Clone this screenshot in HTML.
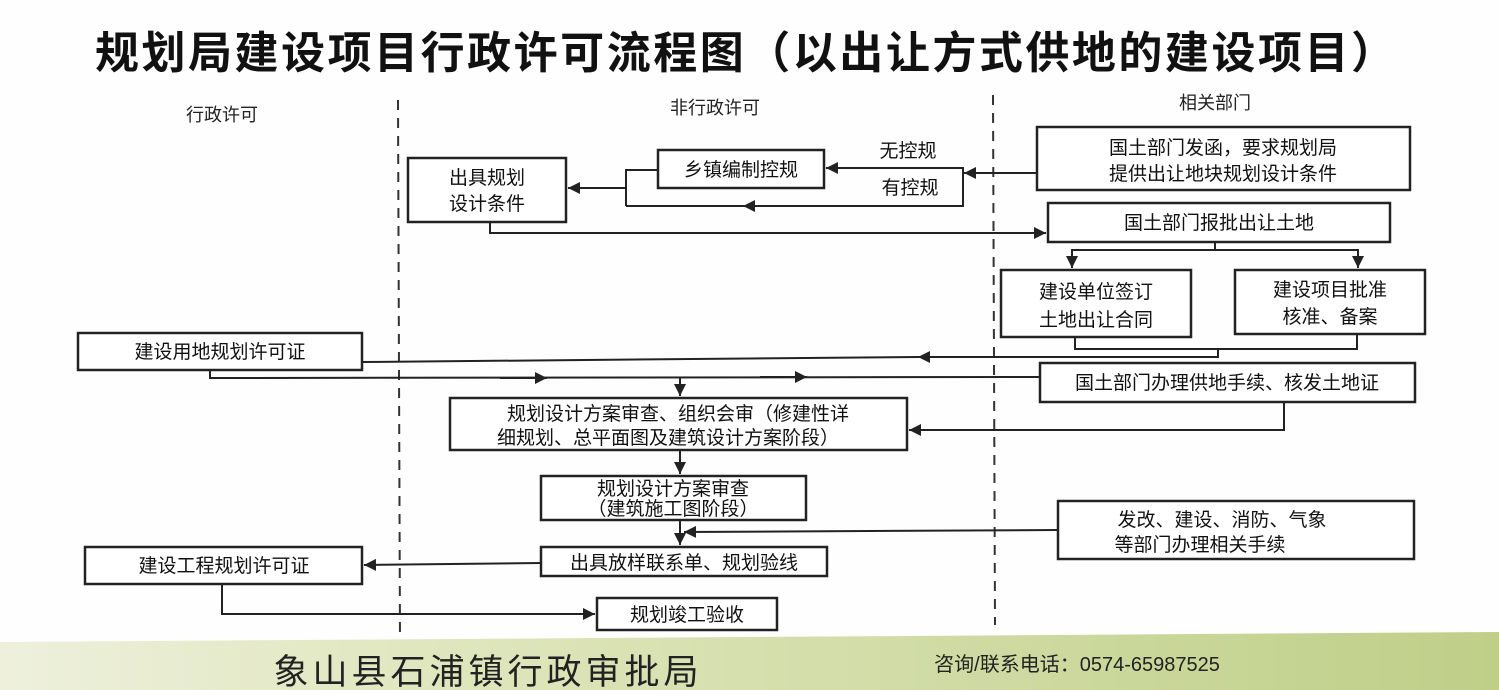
<!DOCTYPE html>
<html><head><meta charset="utf-8"><style>
html,body{margin:0;padding:0;background:#fff;}
svg{display:block;font-family:"Liberation Sans","Noto Sans CJK SC","WenQuanYi Zen Hei",sans-serif;}
</style></head><body>
<svg width="1499" height="690" viewBox="0 0 1499 690" xmlns="http://www.w3.org/2000/svg">
<defs>
<linearGradient id="g" x1="0" x2="1" y1="0" y2="0">
<stop offset="0" stop-color="#eef0dc"/><stop offset="0.3" stop-color="#dfe6bd"/><stop offset="1" stop-color="#bfcf88"/>
</linearGradient>
<marker id="a" viewBox="0 0 10 10" refX="10" refY="5" markerWidth="6" markerHeight="6" orient="auto-start-reverse"><path d="M0,0L10,5L0,10z" fill="#222"/></marker>
</defs>
<rect width="1499" height="690" fill="#fefefe"/>
<path d="M0,642 L1499,632 L1499,690 L0,690z" fill="url(#g)"/>
<text x="95" y="68" font-size="44" font-weight="bold" fill="#111" textLength="1300" lengthAdjust="spacing">规划局建设项目行政许可流程图（以出让方式供地的建设项目）</text>
<g stroke="#333" stroke-width="2" stroke-dasharray="10,8">
<line x1="398" y1="100" x2="400" y2="640"/><line x1="993" y1="95" x2="995" y2="625"/>
</g>
<g font-size="18" fill="#222" text-anchor="middle">
<text x="222" y="121">行政许可</text><text x="715" y="114">非行政许可</text><text x="1215" y="109">相关部门</text>
</g>
<g fill="#fff" stroke="#222" stroke-width="2.5">
<rect x="1037" y="127" width="373" height="63"/>
<rect x="1048" y="203" width="342" height="39"/>
<rect x="1001" y="270" width="190" height="67"/>
<rect x="1235" y="270" width="190" height="64"/>
<rect x="658" y="150" width="166" height="38"/>
<rect x="408" y="158" width="158" height="64"/>
<rect x="78" y="333" width="284" height="37"/>
<rect x="1040" y="363" width="375" height="39"/>
<rect x="450" y="398" width="457" height="52"/>
<rect x="541" y="476" width="265" height="44"/>
<rect x="1058" y="501" width="356" height="58"/>
<rect x="541" y="547" width="286" height="29"/>
<rect x="85" y="547" width="277" height="37"/>
<rect x="597" y="598" width="180" height="32"/>
</g>
<g fill="none" stroke="#222" stroke-width="2">
<line x1="1037" y1="173" x2="964" y2="173" marker-end="url(#a)"/>
<path d="M963,167 L963,206 L626,206"/>
<line x1="963" y1="168" x2="826" y2="168" marker-end="url(#a)"/>
<line x1="800" y1="206" x2="743" y2="206" marker-end="url(#a)"/>
<path d="M658,170 L626,170 L626,206"/>
<line x1="626" y1="188" x2="568" y2="188" marker-end="url(#a)"/>
<path d="M490,222 L490,233 L1046,233" marker-end="url(#a)"/>
<path d="M1215,242 L1215,250 L1072,250 L1072,268" marker-end="url(#a)"/>
<path d="M1215,250 L1358,250 L1358,268" marker-end="url(#a)"/>
<path d="M1075,337 L1075,349 L1357,349 L1357,334"/>
<path d="M1218,349 L1218,357 L920,357"/>
<line x1="980" y1="357" x2="918" y2="357" marker-end="url(#a)"/>
<line x1="920" y1="357" x2="362" y2="362"/>
<path d="M210,370 L210,378 L1040,377"/>
<line x1="500" y1="378" x2="547" y2="378" marker-end="url(#a)"/>
<line x1="760" y1="377" x2="807" y2="377" marker-end="url(#a)"/>
<line x1="680" y1="378" x2="680" y2="396" marker-end="url(#a)"/>
<path d="M1284,402 L1284,430 L909,430" marker-end="url(#a)"/>
<line x1="680" y1="450" x2="680" y2="474" marker-end="url(#a)"/>
<line x1="1058" y1="530" x2="684" y2="532" marker-end="url(#a)"/>
<line x1="680" y1="520" x2="680" y2="545" marker-end="url(#a)"/>
<line x1="541" y1="563" x2="364" y2="565" marker-end="url(#a)"/>
<path d="M222,584 L222,614 L595,614" marker-end="url(#a)"/>
</g>
<g font-size="19" fill="#111" text-anchor="middle">
<text x="1223" y="154">国土部门发函，要求规划局</text>
<text x="1223" y="180">提供出让地块规划设计条件</text>
<text x="1219" y="229">国土部门报批出让土地</text>
<text x="1096" y="298">建设单位签订</text><text x="1096" y="326">土地出让合同</text>
<text x="1330" y="296">建设项目批准</text><text x="1330" y="323">核准、备案</text>
<text x="741" y="176">乡镇编制控规</text>
<text x="487" y="184">出具规划</text><text x="487" y="210">设计条件</text>
<text x="908" y="157">无控规</text><text x="910" y="194">有控规</text>
<text x="220" y="358">建设用地规划许可证</text>
<text x="1227" y="389">国土部门办理供地手续、核发土地证</text>
<text x="678" y="420">规划设计方案审查、组织会审（修建性详</text>
<text x="668" y="444">细规划、总平面图及建筑设计方案阶段）</text>
<text x="673" y="495">规划设计方案审查</text><text x="673" y="515">（建筑施工图阶段）</text>
<text x="1222" y="526">发改、建设、消防、气象</text><text x="1200" y="551">等部门办理相关手续</text>
<text x="684" y="569">出具放样联系单、规划验线</text>
<text x="224" y="572">建设工程规划许可证</text>
<text x="687" y="621">规划竣工验收</text>
</g>
<text x="488" y="684" text-anchor="middle" font-size="35" fill="#222" letter-spacing="4">象山县石浦镇行政审批局</text>
<text x="1077" y="671" text-anchor="middle" font-size="20" fill="#222">咨询/联系电话：0574-65987525</text>
</svg>
</body></html>
